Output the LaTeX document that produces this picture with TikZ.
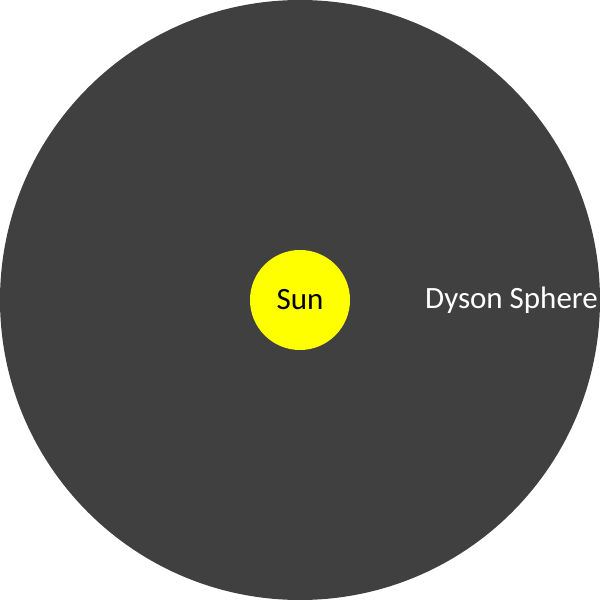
\documentclass[tikz,border=0pt]{standalone}
\usepackage{fontspec}
\setmainfont{Carlito}
\usepackage{tikz}
\usetikzlibrary{positioning}
\definecolor{SphereGray}{HTML}{404040}
\definecolor{SunYellow}{HTML}{FFFF00}
\tikzset{
  sphere/.style={circle, fill=SphereGray, draw=none, minimum size=600pt, inner sep=0pt},
  star/.style={circle, fill=SunYellow, draw=none, minimum size=100pt, inner sep=0pt, text=black, font=\fontsize{31}{36}\selectfont},
  label/.style={text=white, font=\fontsize{31}{36}\selectfont, inner sep=0pt}
}

\begin{document}
\begin{tikzpicture}[x=1pt,y=1pt]
    \useasboundingbox (0,0) rectangle (600,600);
    \node [sphere] (dyson) at (300,300) {};
    \node [star] (sun) at (300,300) {Sun};
    \node [label, anchor=west] (dysonlbl) at (425,300) {Dyson Sphere};
\end{tikzpicture}
\end{document}
